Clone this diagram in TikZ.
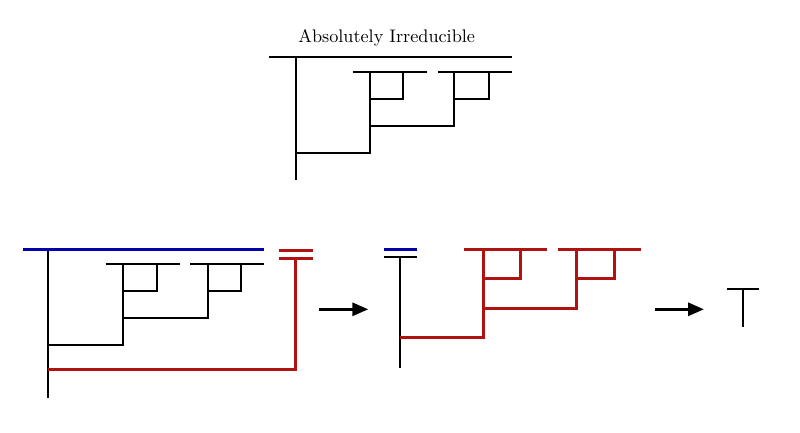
\documentclass[tikz,border=0pt]{standalone}
\usepackage{fontspec}
\usetikzlibrary{arrows.meta}
\definecolor{dblue}{RGB}{0,0,170}
\definecolor{dred}{RGB}{176,18,18}
\tikzset{
  blk/.style={line width=2pt,black},
  thinblk/.style={line width=1.8pt,black},
  bl/.style={line width=3pt,dblue},
  rd/.style={line width=3pt,dred},
  bigarrow/.style={line width=3pt,black,-{Triangle[length=16pt,width=13pt]}},
}
\begin{document}
\begin{tikzpicture}[x=1pt,y=-1pt]
\useasboundingbox (0,0) rectangle (800,433);
% title
\node[font=\normalsize,scale=1.82,anchor=base,inner sep=0pt] (title) at (386.7,42.3) {Absolutely Irreducible};
% top tree
\draw[blk] (269,57.3) -- (512,57.3);
\draw[blk] (295.7,57.3) -- (295.7,180);
\draw[blk] (352.7,71.7) -- (426.7,71.7);
\draw[blk] (437.7,71.7) -- (512,71.7);
\draw[blk] (370.3,71.7) -- (370.3,153.3) -- (295.7,153.3);
\draw[blk] (403.3,71.7) -- (403.3,98.7) -- (370.3,98.7);
\draw[blk] (454.3,71.7) -- (454.3,126.3) -- (370.3,126.3);
\draw[blk] (488.7,71.7) -- (488.7,98.7) -- (454.3,98.7);
% bottom left tree
\draw[thinblk] (47.7,249.3) -- (47.7,398.3);
\draw[thinblk] (105.7,264.3) -- (180,264.3);
\draw[thinblk] (190,264.3) -- (264,264.3);
\draw[thinblk] (122.7,264.3) -- (122.7,345.3) -- (47.7,345.3);
\draw[thinblk] (156.7,264.3) -- (156.7,291.3) -- (122.7,291.3);
\draw[thinblk] (207.7,264.3) -- (207.7,318.3) -- (122.7,318.3);
\draw[thinblk] (240.7,264.3) -- (240.7,291.3) -- (207.7,291.3);
\draw[bl] (22.7,249.3) -- (264,249.3);
\draw[rd] (279.3,250) -- (312.7,250);
\draw[rd] (279.3,258.3) -- (312.7,258.3);
\draw[rd] (295.7,258.3) -- (295.7,369.3) -- (47.7,369.3);
% arrow 1
\coordinate (a1s) at (319.3,309.3);
\coordinate (a1e) at (368.3,309.3);
\draw[bigarrow] (a1s) -- (a1e);
% middle tree
\draw[bl] (384,249.3) -- (417.3,249.3);
\draw[thinblk] (384,257.3) -- (417.3,257.3);
\draw[thinblk] (400,257.3) -- (400,368.3);
\draw[rd] (400,337.7) -- (483.3,337.7) -- (483.3,249.3);
\draw[rd] (464.3,249.3) -- (547.3,249.3);
\draw[rd] (557.7,249.3) -- (640.7,249.3);
\draw[rd] (520,249.3) -- (520,278.3) -- (483.3,278.3);
\draw[rd] (576.7,249.3) -- (576.7,308.3) -- (483.3,308.3);
\draw[rd] (614,249.3) -- (614,278.3) -- (576.7,278.3);
% arrow 2
\coordinate (a2s) at (655.3,309.3);
\coordinate (a2e) at (704,309.3);
\draw[bigarrow] (a2s) -- (a2e);
% final T
\draw[thinblk] (726.7,289.3) -- (759,289.3);
\draw[thinblk] (743.3,289.3) -- (743.3,327.3);
\end{tikzpicture}
\end{document}
